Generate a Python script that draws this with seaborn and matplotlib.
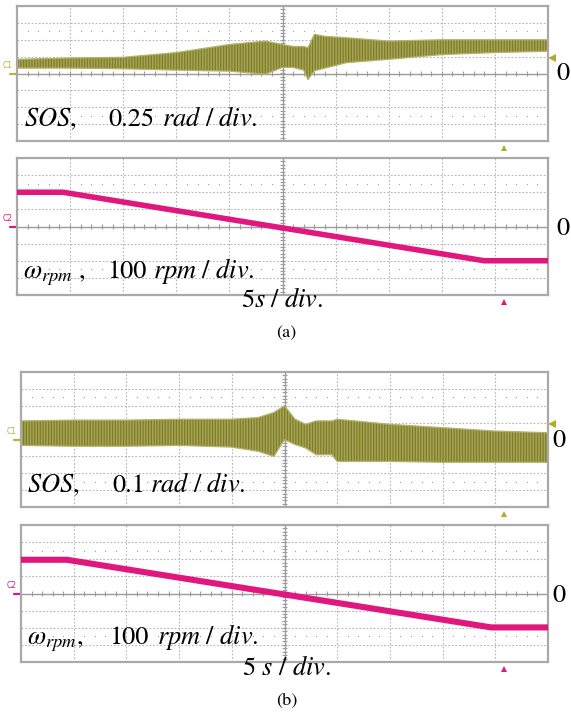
import numpy as np
import pandas as pd
import matplotlib
matplotlib.use("Agg")
import matplotlib.pyplot as plt
import matplotlib.transforms as mtrans
import seaborn as sns

# ---------------- data (time in s, 5 s/div) ----------------
# (a) SOS trace envelope, rad (0.25 rad/div)
sos_a_t  = [0, 5, 10, 15, 20, 23.4, 25, 26, 27, 27.4, 28, 29, 31, 35, 40, 45, 50]
sos_a_hi = [0.21, 0.23, 0.24, 0.31, 0.43, 0.48, 0.43, 0.40, 0.40, 0.38, 0.58, 0.55, 0.53, 0.48, 0.50, 0.50, 0.50]
sos_a_lo = [0.08, 0.08, 0.07, 0.05, 0.035, -0.01, 0.09, 0.09, 0.05, -0.09, 0.04, 0.08, 0.16, 0.21, 0.28, 0.31, 0.33]

# (a) speed, rpm (100 rpm/div)
spd_a_t = [0, 4.35, 44.0, 50]
spd_a_v = [200, 200, -200, -200]

# (b) SOS trace envelope, rad (0.1 rad/div)
sos_b_t  = [0, 5, 10, 15, 20, 22.5, 24, 25, 26, 27, 28, 29.5, 30, 35, 40, 45, 50]
sos_b_hi = [0.11, 0.115, 0.115, 0.12, 0.12, 0.13, 0.16, 0.20, 0.12, 0.09, 0.11, 0.11, 0.12, 0.09, 0.07, 0.05, 0.04]
sos_b_lo = [-0.035, -0.04, -0.04, -0.035, -0.045, -0.07, -0.10, 0.0, -0.03, -0.05, -0.09, -0.09, -0.13, -0.13, -0.135, -0.135, -0.135]

# (b) speed, rpm
spd_b_t = [0, 4.35, 44.6, 50]
spd_b_v = [197, 197, -198, -198]

# scales per division
scale_sos_a = 0.25
scale_spd = 100
scale_sos_b = 0.1

# ---------------- style ----------------
sns.set_theme(style="white")
plt.rcParams['font.family'] = ['STIXGeneral', 'DejaVu Serif']
plt.rcParams['mathtext.fontset'] = 'stix'
plt.rcParams['hatch.linewidth'] = 0.9

W, H = 571, 715
fig = plt.figure(figsize=(W / 100, H / 100), dpi=100)

OLIVE = '#7e7d22'
OLIVE_F = '#a6a45a'
OLIVE_L = '#b4b36e'
PINK = '#e0177c'
GRID = '#b8b8b8'
FRAME = '#a9a9a9'


def rect(x0, y0, x1, y1):
    return [x0 / W, 1 - y1 / H, (x1 - x0) / W, (y1 - y0) / H]


def scope_axes(r, ys):
    ax = fig.add_axes(rect(*r))
    ax.set_xlim(0, 50)
    ax.set_ylim(-4 * ys, 4 * ys)
    ax.set_xticks([])
    ax.set_yticks([])
    ax.set_xlabel('')
    ax.set_ylabel('')
    for sp in ax.spines.values():
        sp.set_color(FRAME)
        sp.set_linewidth(1.6)
    dot = (0, (1.6, 1.6))
    for k in range(1, 10):
        if k == 5:
            continue
        ax.axvline(5 * k, color=GRID, lw=0.8, ls=dot, zorder=0)
    for j in [-3, -2, -1, 1, 2, 3]:
        ax.axhline(j * ys, color=GRID, lw=0.8, ls=dot, zorder=0)
    ax.axhline(0, color='#9c9c9c', lw=1.0, zorder=0)
    ax.axvline(25, color='#9c9c9c', lw=1.0, zorder=0)
    xs = np.arange(1, 50, 1.0)
    ax.vlines(xs, -0.12 * ys, 0.12 * ys, color='#9c9c9c', lw=0.8, zorder=0)
    yt = np.arange(-4, 4.01, 0.2) * ys
    ax.hlines(yt, 24.75, 25.25, color='#9c9c9c', lw=0.8, zorder=0)
    xd = np.array([x for x in np.arange(1, 50, 1.0) if x % 5 != 0])
    for yy in (2.5, -2.5):
        ax.scatter(xd, np.full_like(xd, yy * ys), s=0.8, color='#9a9a9a', zorder=0, linewidths=0)
    return ax


def channel_marks(ax, ys, label, color, trig=None, arrow_x=45.85):
    tr = mtrans.blended_transform_factory(ax.transAxes, ax.transData)
    ax.plot([-0.014, 0.0], [0, 0], color=color, lw=1.6, transform=tr, clip_on=False)
    ax.text(-0.028, 0.45 * ys, label, color=color, fontsize=5.5, family='DejaVu Sans',
            transform=tr, ha='left', va='center')
    if trig is not None:
        ax.plot([1.008], [trig], marker='<', color='#b0ac2a', ms=6, mew=0,
                transform=tr, clip_on=False)
    tr2 = mtrans.blended_transform_factory(ax.transData, ax.transAxes)
    ax.plot([arrow_x], [-0.05], marker='^', color=color if color == PINK else '#b0ac2a',
            ms=5, mew=0, transform=tr2, clip_on=False)


def sos_panel(r, t, hi, lo, ys, trig):
    ax = scope_axes(r, ys)
    ax.fill_between(t, lo, hi, facecolor=OLIVE_F, edgecolor=OLIVE, hatch='||||||',
                    lw=0, zorder=2)
    df = pd.DataFrame({'t': t + t, 'v': hi + lo, 'edge': ['hi'] * len(t) + ['lo'] * len(t)})
    sns.lineplot(data=df, x='t', y='v', units='edge', estimator=None, color=OLIVE_L,
                 lw=0.9, ax=ax, zorder=3, legend=False)
    ax.set_xlabel('')
    ax.set_ylabel('')
    channel_marks(ax, ys, 'C1', '#b8b23a', trig=trig)
    return ax


def spd_panel(r, t, v, lw):
    ax = scope_axes(r, scale_spd)
    df = pd.DataFrame({'t': t, 'v': v})
    sns.lineplot(data=df, x='t', y='v', color=PINK, lw=lw, ax=ax, zorder=3,
                 solid_capstyle='butt')
    ax.set_xlabel('')
    ax.set_ylabel('')
    channel_marks(ax, scale_spd, 'C2', PINK)
    return ax


ax1 = sos_panel((17, 6, 548, 141), sos_a_t, sos_a_hi, sos_a_lo, scale_sos_a, 0.9 * scale_sos_a)
ax2 = spd_panel((17, 158, 548, 295), spd_a_t, spd_a_v, 4.0)
ax3 = sos_panel((21, 372, 548, 507), sos_b_t, sos_b_hi, sos_b_lo, scale_sos_b, 0.9 * scale_sos_b)
ax4 = spd_panel((21, 525, 548, 662), spd_b_t, spd_b_v, 4.4)


def ftxt(x, y, s, size=19, **kw):
    fig.text(x / W, 1 - y / H, s, fontsize=size, va='baseline', ha='left', color='black', **kw)


# panel (a) texts
ftxt(24, 126, r'$SOS$,')
ftxt(108, 126, '0.25')
ftxt(162, 126, r'$rad\ /\ div.$')
ftxt(23, 278, r'$\omega_{rpm}$ ,')
ftxt(107, 278, '100')
ftxt(153, 278, r'$rpm\ /\ div.$')
ftxt(241, 307, r'5$s\ /\ div.$')
ftxt(276, 337, '(a)', size=13)

# panel (b) texts
ftxt(27, 492, r'$SOS$,')
ftxt(112, 492, '0.1')
ftxt(150, 492, r'$rad\ /\ div.$')
ftxt(27, 644, r'$\omega_{rpm}$,')
ftxt(109, 644, '100')
ftxt(157, 644, r'$rpm\ /\ div.$')
ftxt(242, 675, r'5 $s\ /\ div.$')
ftxt(276, 705, '(b)', size=13)

# zero labels
for (x, y) in [(556, 74), (556, 229), (552, 441), (552, 596)]:
    fig.text(x / W, 1 - y / H, '0', fontsize=19, va='center', ha='left', color='black')

fig.savefig('out.png', dpi=100, facecolor='white')
